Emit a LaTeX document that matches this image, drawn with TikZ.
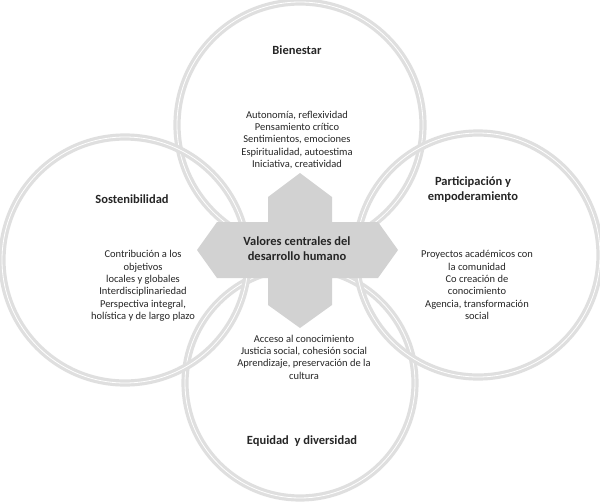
\documentclass[tikz,border=0pt]{standalone}
\usepackage{fontspec}
\setmainfont{Carlito}
\begin{document}
\begin{tikzpicture}[x=1pt,y=-1pt,
  ring/.style={draw=gray!25,line width=3.2pt,double=white,double distance=0.8pt},
  head/.style={font=\bfseries\fontsize{12.5}{15}\selectfont,align=center,text=black!85},
  body/.style={font=\fontsize{10.5}{12.3}\selectfont,align=center,text=black!85}]
\useasboundingbox (0,0) rectangle (600,501);
\fill[white] (0,0) rectangle (600,501);
\node[circle,minimum size=246pt,ring] (cT) at (300,125) {};
\node[circle,minimum size=230pt,ring] (cB) at (300,383) {};
\node[circle,minimum size=246pt,ring] (cL) at (125,260) {};
\node[circle,minimum size=244pt,ring] (cR) at (478,255) {};
\fill[gray!35] (197,250) -- (217,222) -- (268,222) -- (268,197) -- (300,173) -- (332,197) -- (332,222) -- (378,222) -- (398,250) -- (378,278) -- (332,278) -- (332,305) -- (300,328) -- (268,305) -- (268,278) -- (217,278) -- cycle;
\node[head] (center) at (297,249) {Valores centrales del\\desarrollo humano};
\node[head] (hT) at (297,50) {Bienestar};
\node[body] (bT) at (297,140) {Autonomía, reflexividad\\Pensamiento crítico\\Sentimientos, emociones\\Espiritualidad, autoestima\\Iniciativa, creatividad};
\node[head] (hL) at (132,199) {Sostenibilidad};
\node[body] (bL) at (143,286) {Contribución a los\\objetivos\\locales y globales\\Interdisciplinariedad\\Perspectiva integral,\\holística y de largo plazo};
\node[head] (hR) at (473,190) {Participación y\\empoderamiento};
\node[body] (bR) at (477,285) {Proyectos académicos con\\la comunidad\\Co creación de\\conocimiento\\Agencia, transformación\\social};
\node[body] (bB) at (304,357) {Acceso al conocimiento\\Justicia social, cohesión social\\Aprendizaje, preservación de la\\cultura};
\node[head] (hB) at (302,441) {Equidad\ \ y diversidad};
\end{tikzpicture}
\end{document}
